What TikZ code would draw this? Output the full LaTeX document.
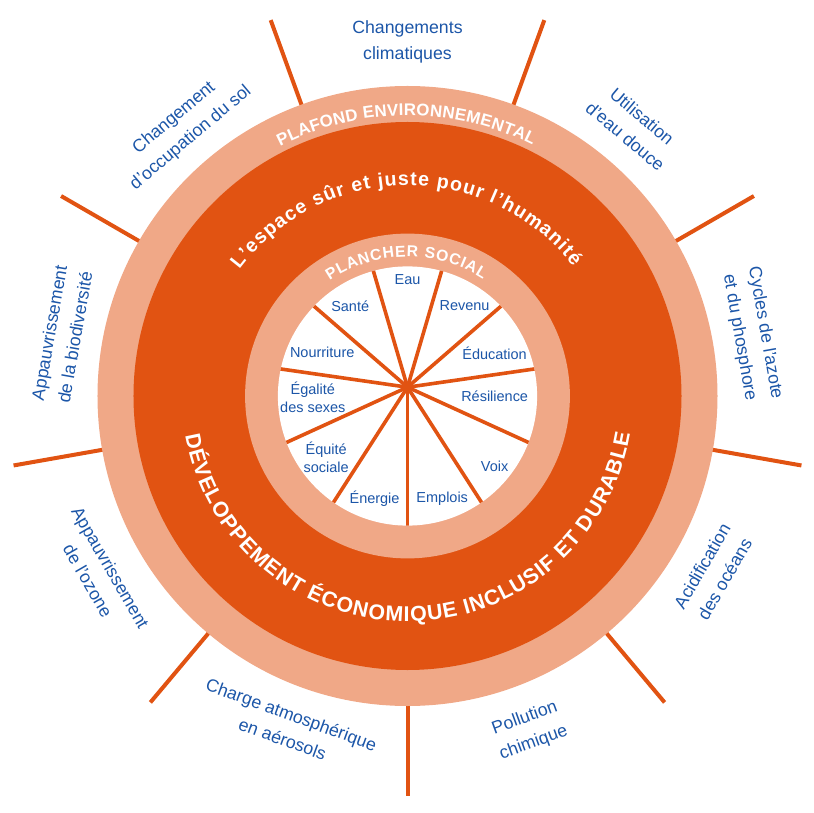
\documentclass[tikz,border=0pt]{standalone}
\usepackage{fontspec}
\setmainfont{Liberation Sans}
\usepackage{tikz}
\usetikzlibrary{decorations.text}
\definecolor{orangefonce}{RGB}{225,83,18}
\definecolor{orangeclair}{RGB}{240,168,135}
\definecolor{bleutexte}{RGB}{28,86,168}
\tikzset{
  anneau/.style={fill=orangeclair},
  zone/.style={fill=orangefonce},
  rayon/.style={draw=orangefonce,line width=0.1cm},
  rayonint/.style={draw=orangefonce,line width=0.09cm},
  limite/.style={text=bleutexte,align=center,font=\fontsize{12.6}{18.5}\selectfont},
  besoin/.style={text=bleutexte,align=center,font=\fontsize{10.3}{13}\selectfont}
}
\begin{document}
\begin{tikzpicture}[scale=1.0]
\useasboundingbox (-10.1875,-10.425) rectangle (10.1375,9.9);
\coordinate (c) at (0,0);
\coordinate (hub) at (0,0.22);
\foreach \a in {-90,-50,...,230}
  \draw[rayon] (\a:7.6) -- (\a:10);
\fill[anneau] (c) circle (7.75);
\fill[zone] (c) circle (6.85);
\fill[anneau] (c) circle (4.06);
\fill[white] (c) circle (3.24);
\begin{scope}
\clip (c) circle (3.24);
\foreach \k in {0,...,10}
  \draw[rayonint] (hub) -- ++(-90+\k*360/11:4);
\end{scope}
\path[decorate,decoration={text along path,text align=fit to path,text color=white,
  text={|\fontsize{12}{14}\selectfont\bfseries|PLAFOND ENVIRONNEMENTAL}}]
  (117:7.01) arc[start angle=117,end angle=63.5,radius=7.01];
\path[decorate,decoration={text along path,text align=fit to path,text color=white,
  text={|\fontsize{13.9}{16}\selectfont\bfseries|L’espace sûr et juste pour l’humanité}}]
  (143:5.26) arc[start angle=143,end angle=38,radius=5.26];
\path[decorate,decoration={text along path,text align=fit to path,text color=white,
  text={|\fontsize{15.2}{17}\selectfont\bfseries|DÉVELOPPEMENT ÉCONOMIQUE INCLUSIF ET DURABLE}}]
  (190:5.64) arc[start angle=190,end angle=350.5,radius=5.64];
\path[decorate,decoration={text along path,text align=fit to path,text color=white,
  text={|\fontsize{11.2}{13}\selectfont\bfseries|PLANCHER SOCIAL}}]
  (124:3.475) arc[start angle=124,end angle=57,radius=3.475];
\node[limite] (climat) at (90:8.84) {Changements\\climatiques};
\node[limite,rotate=-40] (douce) at (50:8.8) {Utilisation\\d'eau douce};
\node[limite,rotate=-80] (azote) at (10:8.75) {Cycles de l'azote\\et du phosphore};
\node[limite,rotate=60] (acid) at (-30:8.83) {Acidification\\des océans};
\node[limite,rotate=20] (pollu) at (-70:8.9) {Pollution\\chimique};
\node[limite,rotate=-20] (aero) at (-110:8.8) {Charge atmosphérique\\en aérosols};
\node[limite,rotate=-60] (ozone) at (-150:8.9) {Appauvrissement\\de l'ozone};
\node[limite,rotate=80] (biodiv) at (170:8.77) {Appauvrissement\\de la biodiversité};
\node[limite,rotate=40] (sol) at (130:8.75) {Changement\\d'occupation du sol};
\node[besoin] (eau) at ([shift={(90:2.7)}]hub) {Eau};
\node[besoin] (revenu) at ([shift={(54.9:2.48)}]hub) {Revenu};
\node[besoin] (educ) at ([shift={(21.5:2.34)}]hub) {Éducation};
\node[besoin] (resil) at ([shift={(-5.7:2.19)}]hub) {Résilience};
\node[besoin] (voix) at ([shift={(-42.2:2.94)}]hub) {Voix};
\node[besoin] (emplois) at ([shift={(-72.7:2.92)}]hub) {Emplois};
\node[besoin] (energie) at ([shift={(-106.5:2.9)}]hub) {Énergie};
\node[besoin] (equite) at ([shift={(-139.3:2.68)}]hub) {Équité\\sociale};
\node[besoin] (egalite) at ([shift={(-174:2.38)}]hub) {Égalité\\des sexes};
\node[besoin] (nourr) at ([shift={(158:2.3)}]hub) {Nourriture};
\node[besoin] (sante) at ([shift={(125.3:2.48)}]hub) {Santé};
\end{tikzpicture}
\end{document}
